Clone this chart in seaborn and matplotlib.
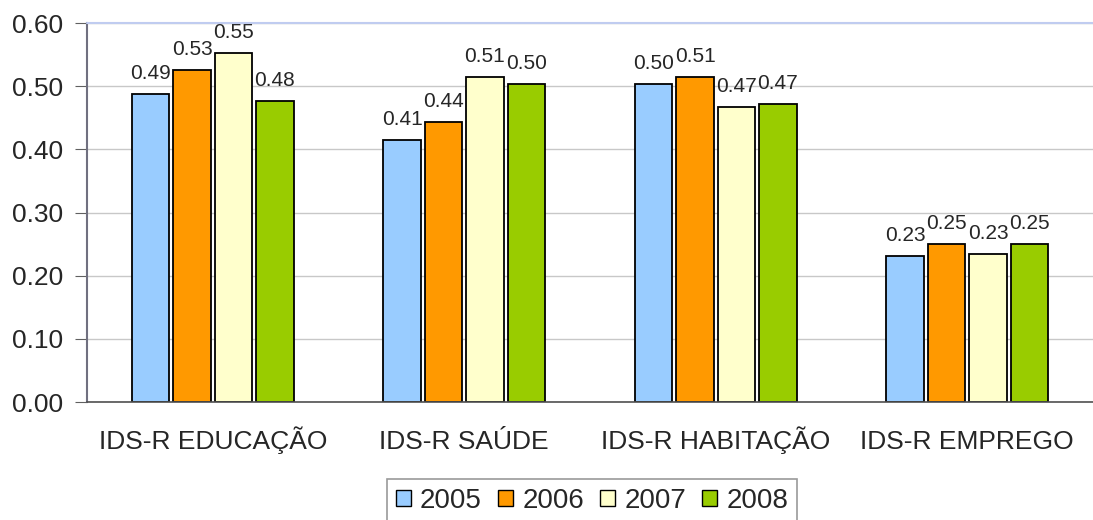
import seaborn as sns
import matplotlib.pyplot as plt
import pandas as pd

sns.set_style("white")
plt.rcParams['font.family'] = ['Liberation Sans', 'DejaVu Sans']

categorias = ["IDS-R EDUCAÇÃO", "IDS-R SAÚDE", "IDS-R HABITAÇÃO", "IDS-R EMPREGO"]
anos = ["2005", "2006", "2007", "2008"]
v2005 = [0.488, 0.415, 0.503, 0.231]
v2006 = [0.526, 0.443, 0.514, 0.250]
v2007 = [0.552, 0.514, 0.467, 0.234]
v2008 = [0.476, 0.503, 0.472, 0.250]

colors = ["#99ccff", "#ff9900", "#ffffcc", "#99cc00"]

linhas = []
for ano, vals in zip(anos, [v2005, v2006, v2007, v2008]):
    for cat, v in zip(categorias, vals):
        linhas.append({"Categoria": cat, "Ano": ano, "Valor": v})
df = pd.DataFrame(linhas)

fig = plt.figure(figsize=(10.93, 5.2), dpi=100)
ax = fig.add_axes([87 / 1093, 1 - 402 / 520, 1 - 87 / 1093, (402 - 23) / 520])

sns.barplot(data=df, x="Categoria", y="Valor", hue="Ano", order=categorias,
            hue_order=anos, palette=colors, saturation=1, width=0.66, gap=0.1,
            edgecolor="black", linewidth=1.3, errorbar=None, ax=ax)

for cont in ax.containers:
    ax.bar_label(cont, fmt="%.2f", padding=8, fontsize=15)

ax.set_ylim(0, 0.60)
ax.set_xlim(-0.5, -0.5 + (1093 - 87) / 253.5)
ax.set_yticks([0.0, 0.1, 0.2, 0.3, 0.4, 0.5, 0.6])
ax.set_yticklabels([f"{t:.2f}" for t in ax.get_yticks()], fontsize=19)
ax.yaxis.grid(True, color="#c8c8c8", linewidth=1)
ax.axhline(0.60, color="#c0ccf0", linewidth=1.5, zorder=3, clip_on=False)
ax.set_axisbelow(True)

ax.set_xticks([0, 1, 2, 3])
ax.set_xticklabels(categorias, fontsize=19, va="baseline")
ax.set_xticks([-0.5, 0.5, 1.5, 2.5, 3.5], minor=True)
ax.tick_params(axis="x", which="major", length=0, pad=34)
ax.tick_params(axis="x", which="minor", length=8, direction="out", color="#606060")
ax.tick_params(axis="y", length=9, direction="out", color="#606060", left=True, pad=8)
ax.set_xlabel("")
ax.set_ylabel("")

for s in ["top", "right"]:
    ax.spines[s].set_visible(False)
ax.spines["left"].set_color("#707080")
ax.spines["left"].set_linewidth(1.5)
ax.spines["bottom"].set_color("#505050")
ax.spines["bottom"].set_linewidth(1.2)

ax.get_legend().remove()
handles = [plt.Rectangle((0, 0), 1, 1, facecolor=c, edgecolor="black", linewidth=1) for c in colors]
leg = fig.legend(handles, anos, loc="upper center", bbox_to_anchor=(592 / 1093, 1 - 479 / 520),
                 ncol=4, fontsize=20, frameon=True, fancybox=False, handlelength=0.55,
                 handleheight=0.55, handletextpad=0.32, columnspacing=0.58,
                 borderpad=0.32, borderaxespad=0, edgecolor="#808080")
leg.get_frame().set_linewidth(1.2)

fig.savefig("out.png", dpi=100)
